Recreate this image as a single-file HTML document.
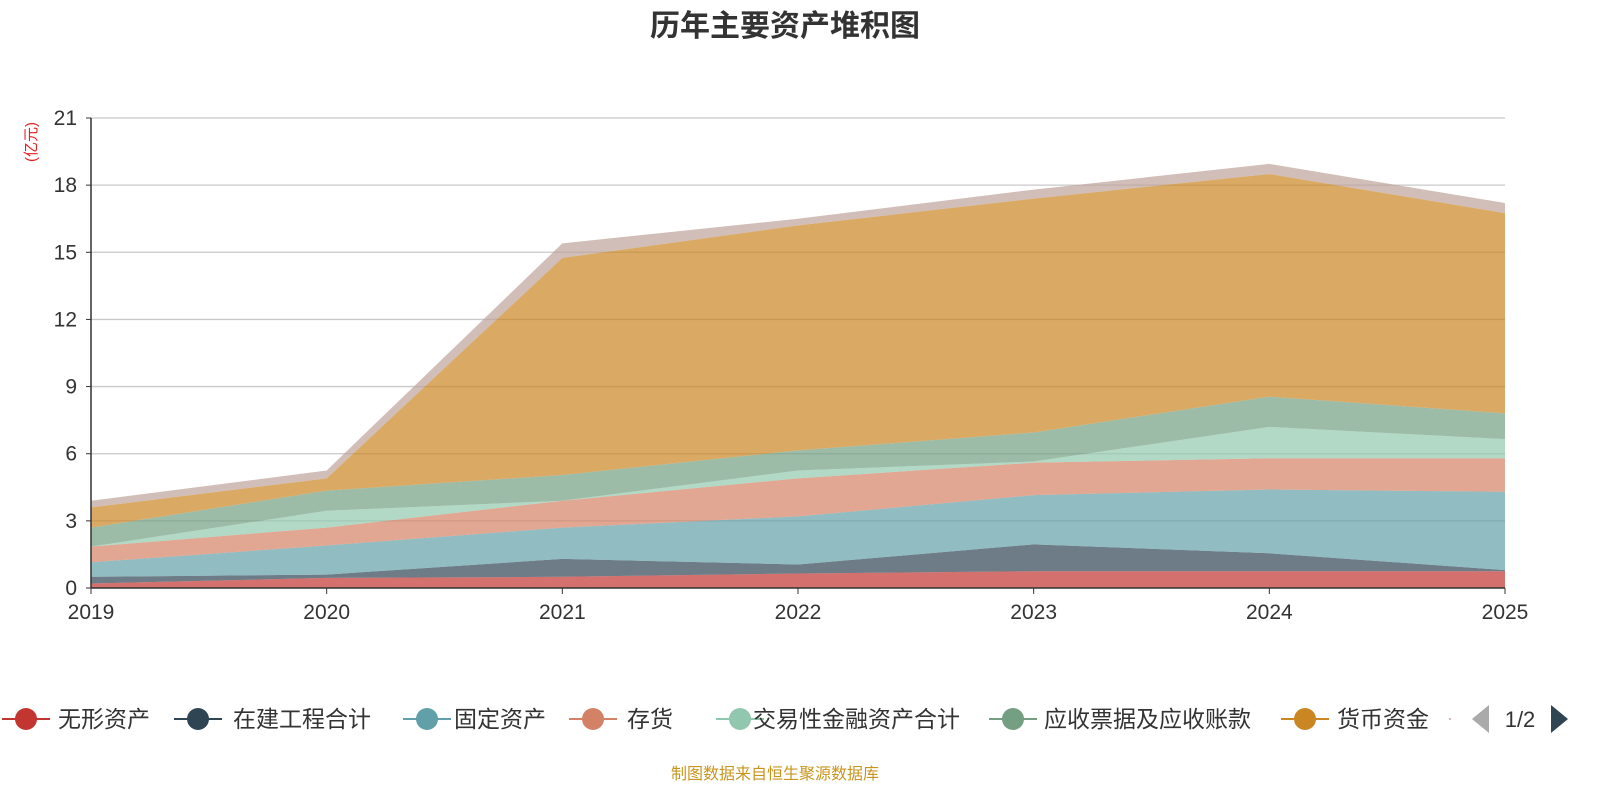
<!DOCTYPE html>
<html><head><meta charset="utf-8">
<style>
html,body{margin:0;padding:0;background:#fff;width:1600px;height:800px;overflow:hidden}
svg{display:block;font-family:"Liberation Sans","Noto Sans CJK SC",sans-serif}
</style></head>
<body>
<svg id="chart" width="1600" height="800" xmlns="http://www.w3.org/2000/svg">
<text x="785" y="36" text-anchor="middle" font-size="30" font-weight="bold" fill="#333">历年主要资产堆积图</text>
<text transform="translate(36,142) rotate(-90)" text-anchor="middle" font-size="15" fill="#e02020">(亿元)</text>
<g id="grid"></g>
<g id="areas"></g>
<g id="axes"></g>
<g id="legend"></g>
<text x="775" y="779" text-anchor="middle" font-size="16" fill="#c8961e">制图数据来自恒生聚源数据库</text>
</svg>
<script>
const categories = ["2019","2020","2021","2022","2023","2024","2025"];
const seriesNames = ["无形资产","在建工程合计","固定资产","存货","交易性金融资产合计","应收票据及应收账款","货币资金","其他"];
const s0 = [0.2,0.45,0.5,0.65,0.75,0.75,0.75];
const s1 = [0.3,0.15,0.8,0.4,1.2,0.8,0.05];
const s2 = [0.65,1.3,1.4,2.15,2.2,2.85,3.5];
const s3 = [0.7,0.8,1.2,1.7,1.45,1.4,1.5];
const s4 = [0.0,0.75,0.0,0.35,0.05,1.4,0.85];
const s5 = [0.85,0.9,1.15,0.9,1.3,1.35,1.15];
const s6 = [0.9,0.55,9.7,10.05,10.45,9.95,8.95];
const s7 = [0.3,0.35,0.65,0.3,0.4,0.45,0.45];
const yTicks = [0,3,6,9,12,15,18,21];
const colors = ["#c23531","#2f4554","#61a0a8","#d48265","#91c7ae","#749f83","#ca8622","#bda29a"];
const NS="http://www.w3.org/2000/svg";
const X0=91,X1=1505,Y0=588,Y1=118,YMAX=21;
const xs=i=>X0+(X1-X0)*i/(categories.length-1);
const ys=v=>Y0-(Y0-Y1)*v/YMAX;
function mk(tag,attrs,parent){const e=document.createElementNS(NS,tag);for(const k in attrs)e.setAttribute(k,attrs[k]);parent.appendChild(e);return e;}
const grid=document.getElementById('grid'),areas=document.getElementById('areas'),axes=document.getElementById('axes'),legend=document.getElementById('legend');
yTicks.forEach(t=>{
  if(t>0){const l=mk('line',{x1:X0,x2:X1,y1:ys(t),y2:ys(t),stroke:'#c8c8c8','stroke-width':1.3},grid);
  
  }
  const tx=mk('text',{x:X0-14,y:ys(t)+7,'text-anchor':'end','font-size':21,fill:'#333'},axes);tx.textContent=t;
  
  
  mk('line',{x1:X0-5,x2:X0,y1:ys(t),y2:ys(t),stroke:'#333'},axes);
});
const all=[s0,s1,s2,s3,s4,s5,s6,s7];
let base=categories.map(()=>0);
all.forEach((s,k)=>{
  const top=base.map((b,i)=>b+s[i]);
  let d='M'+top.map((v,i)=>xs(i)+','+ys(v)).join(' L');
  for(let i=categories.length-1;i>=0;i--)d+=' L'+xs(i)+','+ys(base[i]);
  d+='Z';
  const p=mk('path',{d:d,fill:colors[k],'fill-opacity':0.7,stroke:'none'},areas);
  
  
  base=top;
});
mk('line',{x1:X0,x2:X0,y1:Y1,y2:Y0,stroke:'#333','stroke-width':1.5},axes);
mk('line',{x1:X0,x2:X1,y1:Y0,y2:Y0,stroke:'#333','stroke-width':1.5},axes);
categories.forEach((c,i)=>{
  mk('line',{x1:xs(i),x2:xs(i),y1:Y0,y2:Y0+6,stroke:'#333'},axes);
  const t=mk('text',{x:xs(i),y:Y0+31,'text-anchor':'middle','font-size':21,fill:'#333'},axes);t.textContent=c;
  
  
});
const lx=[26,198,427,593,740,1013,1305],tx=[58,233,454,627,753,1044,1337];
for(let k=0;k<7;k++){
  const g=mk('g',{},legend);
  
  
  mk('line',{x1:lx[k]-24,x2:lx[k]+24,y1:719,y2:719,stroke:colors[k],'stroke-width':2},g);
  mk('circle',{cx:lx[k],cy:719,r:11,fill:colors[k]},g);
  const t=mk('text',{x:tx[k],y:727,'font-size':23,fill:'#333'},g);t.textContent=seriesNames[k];
}
mk('circle',{cx:1450,cy:719,r:1,fill:'#d0a0a0'},legend);
const pl=mk('path',{d:'M1472,719 L1489,705 L1489,733Z',fill:'#aaa'},legend);


const pt=mk('text',{x:1520,y:727,'text-anchor':'middle','font-size':22,fill:'#333'},legend);pt.textContent='1/2';


const pn=mk('path',{d:'M1551,705 L1568,719 L1551,733Z',fill:'#2f4554'},legend);


</script>
</body></html>
